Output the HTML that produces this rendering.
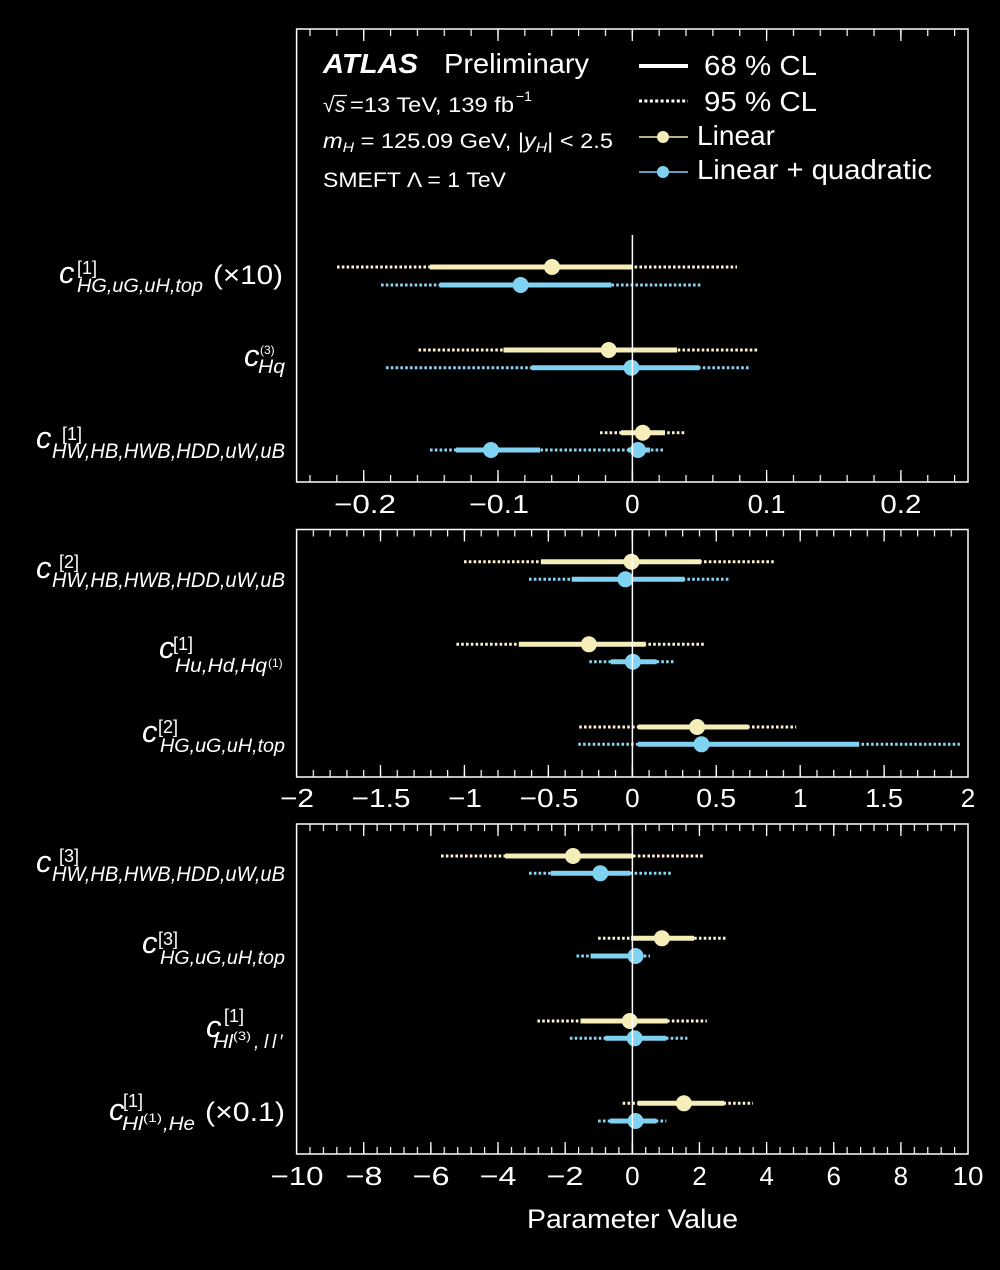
<!DOCTYPE html>
<html><head><meta charset="utf-8">
<style>
html,body{margin:0;padding:0;background:#000;}
svg{display:block;}
text{font-family:"Liberation Sans",Arial,sans-serif;fill:#fff;}
.it{font-style:italic;}
.dy{stroke:#faf3cc;stroke-width:3;stroke-dasharray:2.6 2.2;}
.db{stroke:#8ad6f5;stroke-width:3;stroke-dasharray:2.6 2.2;}
.sy{stroke:#f6eeb8;stroke-width:5;}
.sb{stroke:#7fd2f2;stroke-width:5;}
.cy{fill:#f6eeb8;}
.cb{fill:#7fd2f2;}
.fr{fill:none;stroke:#fff;stroke-width:1.5;}
.tk{stroke:#fff;stroke-width:1.3;}
.zl{stroke:#fff;stroke-width:1.5;}
.tl{font-size:26px;text-anchor:middle;}
</style></head>
<body>
<svg width="1000" height="1270" viewBox="0 0 1000 1270" xmlns="http://www.w3.org/2000/svg">
<defs>
<pattern id="pT" patternUnits="userSpaceOnUse" x="309.38" y="0" width="26.86" height="1270"><rect x="0" y="0" width="1.2" height="1270" fill="#fff"/></pattern>
<pattern id="pM" patternUnits="userSpaceOnUse" x="295.95" y="0" width="16.7875" height="1270"><rect x="0" y="0" width="1.2" height="1270" fill="#fff"/></pattern>
<pattern id="pB" patternUnits="userSpaceOnUse" x="295.95" y="0" width="13.43" height="1270"><rect x="0" y="0" width="1.2" height="1270" fill="#fff"/></pattern>
</defs>
<rect x="0" y="0" width="1000" height="1270" fill="#000"/>

<!-- ================= TOP PANEL ================= -->
<rect x="298" y="29" width="669" height="7" fill="url(#pT)"/>
<rect x="298" y="475" width="669" height="7" fill="url(#pT)"/>
<g class="tk">
<line x1="363.7" y1="29" x2="363.7" y2="41"/><line x1="498" y1="29" x2="498" y2="41"/><line x1="632.3" y1="29" x2="632.3" y2="41"/><line x1="766.6" y1="29" x2="766.6" y2="41"/><line x1="900.9" y1="29" x2="900.9" y2="41"/>
<line x1="363.7" y1="470" x2="363.7" y2="482"/><line x1="498" y1="470" x2="498" y2="482"/><line x1="632.3" y1="470" x2="632.3" y2="482"/><line x1="766.6" y1="470" x2="766.6" y2="482"/><line x1="900.9" y1="470" x2="900.9" y2="482"/>
</g>

<!-- header text -->
<text x="323" y="73" font-size="28" font-weight="bold" font-style="italic" textLength="95" lengthAdjust="spacingAndGlyphs">ATLAS</text>
<text x="444" y="73" font-size="28" textLength="145" lengthAdjust="spacingAndGlyphs">Preliminary</text>

<text x="323" y="112" font-size="21">√</text>
<text x="335" y="112" font-size="21" class="it">s</text>
<line x1="334" y1="95.5" x2="347" y2="95.5" stroke="#fff" stroke-width="1.3"/>
<text x="350" y="112" font-size="21" textLength="164" lengthAdjust="spacingAndGlyphs">=13 TeV, 139 fb</text>
<text x="516" y="101" font-size="14">−1</text>

<text x="323" y="148" font-size="21" textLength="290" lengthAdjust="spacingAndGlyphs"><tspan class="it">m</tspan><tspan class="it" font-size="14" dy="4">H</tspan><tspan dy="-4"> = 125.09 GeV, |</tspan><tspan class="it">y</tspan><tspan class="it" font-size="14" dy="4">H</tspan><tspan dy="-4">| &lt; 2.5</tspan></text>

<text x="323" y="187" font-size="21" textLength="183" lengthAdjust="spacingAndGlyphs">SMEFT Λ = 1 TeV</text>

<!-- legend -->
<line x1="639" y1="66" x2="688" y2="66" stroke="#fff" stroke-width="4"/>
<text x="704" y="75" font-size="28" textLength="113" lengthAdjust="spacingAndGlyphs">68 % CL</text>
<line x1="639" y1="101" x2="688" y2="101" stroke="#fff" stroke-width="3" stroke-dasharray="3 2.4"/>
<text x="704" y="111" font-size="28" textLength="113" lengthAdjust="spacingAndGlyphs">95 % CL</text>
<line x1="639" y1="137" x2="688" y2="137" stroke="#f6eeb8" stroke-width="1.5"/>
<circle cx="663" cy="137" r="6" class="cy"/>
<text x="697" y="145" font-size="28" textLength="78" lengthAdjust="spacingAndGlyphs">Linear</text>
<line x1="639" y1="172" x2="688" y2="172" stroke="#7fd2f2" stroke-width="1.5"/>
<circle cx="663" cy="172" r="6" class="cb"/>
<text x="697" y="179" font-size="28" textLength="235" lengthAdjust="spacingAndGlyphs">Linear + quadratic</text>

<!-- data top -->
<line class="dy" x1="337" y1="267" x2="737" y2="267"/>
<line class="sy" x1="430" y1="267" x2="632" y2="267"/>
<circle class="cy" cx="552" cy="267" r="8"/>
<line class="db" x1="381" y1="285" x2="701" y2="285"/>
<line class="sb" x1="439.6" y1="285" x2="611.3" y2="285"/>
<circle class="cb" cx="520.6" cy="285" r="8"/>

<line class="dy" x1="418.5" y1="350" x2="759" y2="350"/>
<line class="sy" x1="503.5" y1="350" x2="677" y2="350"/>
<circle class="cy" cx="608.7" cy="350" r="8"/>
<line class="db" x1="386" y1="367.7" x2="748.6" y2="367.7"/>
<line class="sb" x1="531.6" y1="367.7" x2="699.3" y2="367.7"/>
<circle class="cb" cx="631.5" cy="367.7" r="8"/>

<line class="dy" x1="600" y1="432.7" x2="685" y2="432.7"/>
<line class="sy" x1="621" y1="432.7" x2="665" y2="432.7"/>
<circle class="cy" cx="642.7" cy="432.7" r="8"/>
<line class="db" x1="430" y1="450" x2="663" y2="450"/>
<line class="sb" x1="456" y1="450" x2="540" y2="450"/>
<line class="sb" x1="628" y1="450" x2="650" y2="450"/>
<circle class="cb" cx="491" cy="450" r="8"/>
<circle class="cb" cx="638" cy="450" r="8"/>

<line class="zl" x1="632.4" y1="235" x2="632.4" y2="482"/>
<rect class="fr" x="296.6" y="29" width="671.4" height="453"/>

<!-- top tick labels -->
<text class="tl" x="365" y="513" textLength="62" lengthAdjust="spacingAndGlyphs">−0.2</text>
<text class="tl" x="499" y="513" textLength="60" lengthAdjust="spacingAndGlyphs">−0.1</text>
<text class="tl" x="632.3" y="513">0</text>
<text class="tl" x="766.6" y="513" textLength="38" lengthAdjust="spacingAndGlyphs">0.1</text>
<text class="tl" x="900.9" y="513" textLength="41" lengthAdjust="spacingAndGlyphs">0.2</text>

<!-- top labels -->
<text x="59" y="283" font-size="31" class="it">c</text>
<text x="77" y="274" font-size="18">[1]</text>
<text x="77" y="292" font-size="19" class="it" textLength="126" lengthAdjust="spacingAndGlyphs">HG,uG,uH,top</text>
<text x="213" y="284" font-size="27" textLength="70" lengthAdjust="spacingAndGlyphs">(×10)</text>

<text x="244" y="366" font-size="31" class="it">c</text>
<text x="260" y="354" font-size="12">(3)</text>
<text x="258" y="373" font-size="19" class="it" textLength="27" lengthAdjust="spacingAndGlyphs">Hq</text>

<text x="36" y="448" font-size="31" class="it">c</text>
<text x="62" y="440" font-size="18">[1]</text>
<text x="52" y="458" font-size="21" class="it" textLength="233" lengthAdjust="spacingAndGlyphs">HW,HB,HWB,HDD,uW,uB</text>

<!-- ================= MIDDLE PANEL ================= -->
<rect x="298" y="529.5" width="669" height="7" fill="url(#pM)"/>
<rect x="298" y="770" width="669" height="7" fill="url(#pM)"/>
<g class="tk">
<line x1="380.49" y1="529.5" x2="380.49" y2="541.5"/><line x1="464.43" y1="529.5" x2="464.43" y2="541.5"/><line x1="548.36" y1="529.5" x2="548.36" y2="541.5"/><line x1="632.3" y1="529.5" x2="632.3" y2="541.5"/><line x1="716.24" y1="529.5" x2="716.24" y2="541.5"/><line x1="800.18" y1="529.5" x2="800.18" y2="541.5"/><line x1="884.11" y1="529.5" x2="884.11" y2="541.5"/>
<line x1="380.49" y1="765" x2="380.49" y2="777"/><line x1="464.43" y1="765" x2="464.43" y2="777"/><line x1="548.36" y1="765" x2="548.36" y2="777"/><line x1="632.3" y1="765" x2="632.3" y2="777"/><line x1="716.24" y1="765" x2="716.24" y2="777"/><line x1="800.18" y1="765" x2="800.18" y2="777"/><line x1="884.11" y1="765" x2="884.11" y2="777"/>
</g>

<line class="dy" x1="464" y1="561.7" x2="775" y2="561.7"/>
<line class="sy" x1="541" y1="561.7" x2="701" y2="561.7"/>
<circle class="cy" cx="631.5" cy="561.7" r="8"/>
<line class="db" x1="529" y1="579.3" x2="730" y2="579.3"/>
<line class="sb" x1="571.7" y1="579.3" x2="684.4" y2="579.3"/>
<circle class="cb" cx="625.4" cy="579.3" r="8"/>

<line class="dy" x1="456.4" y1="644.3" x2="704.2" y2="644.3"/>
<line class="sy" x1="518.9" y1="644.3" x2="645.6" y2="644.3"/>
<circle class="cy" cx="588.9" cy="644.3" r="8"/>
<line class="db" x1="589.3" y1="661.7" x2="675.6" y2="661.7"/>
<line class="sb" x1="610.9" y1="661.7" x2="656.6" y2="661.7"/>
<circle class="cb" cx="632.9" cy="661.7" r="8"/>

<line class="dy" x1="579.2" y1="727" x2="796.2" y2="727"/>
<line class="sy" x1="638.2" y1="727" x2="748.6" y2="727"/>
<circle class="cy" cx="697.1" cy="727" r="8"/>
<line class="db" x1="578.3" y1="744.3" x2="959.9" y2="744.3"/>
<line class="sb" x1="638.2" y1="744.3" x2="859.1" y2="744.3"/>
<circle class="cb" cx="701.5" cy="744.3" r="8"/>

<line class="zl" x1="632.4" y1="529.5" x2="632.4" y2="777"/>
<rect class="fr" x="296.6" y="529.5" width="671.4" height="247.5"/>

<text class="tl" x="297" y="807" textLength="34" lengthAdjust="spacingAndGlyphs">−2</text>
<text class="tl" x="381" y="807" textLength="59" lengthAdjust="spacingAndGlyphs">−1.5</text>
<text class="tl" x="465" y="807" textLength="34" lengthAdjust="spacingAndGlyphs">−1</text>
<text class="tl" x="549" y="807" textLength="59" lengthAdjust="spacingAndGlyphs">−0.5</text>
<text class="tl" x="632.3" y="807">0</text>
<text class="tl" x="716.2" y="807" textLength="40" lengthAdjust="spacingAndGlyphs">0.5</text>
<text class="tl" x="800.2" y="807">1</text>
<text class="tl" x="884.1" y="807" textLength="38" lengthAdjust="spacingAndGlyphs">1.5</text>
<text class="tl" x="968" y="807">2</text>

<text x="36" y="578" font-size="31" class="it">c</text>
<text x="59" y="568" font-size="18">[2]</text>
<text x="52" y="587" font-size="21" class="it" textLength="233" lengthAdjust="spacingAndGlyphs">HW,HB,HWB,HDD,uW,uB</text>

<text x="159" y="658" font-size="31" class="it">c</text>
<text x="173" y="650" font-size="18">[1]</text>
<text x="175" y="672" font-size="19" class="it" textLength="92" lengthAdjust="spacingAndGlyphs">Hu,Hd,Hq</text>
<text x="268" y="667" font-size="12">(1)</text>

<text x="142" y="742" font-size="31" class="it">c</text>
<text x="158" y="733" font-size="18">[2]</text>
<text x="160" y="752" font-size="19" class="it" textLength="125" lengthAdjust="spacingAndGlyphs">HG,uG,uH,top</text>

<!-- ================= BOTTOM PANEL ================= -->
<rect x="298" y="824" width="669" height="7" fill="url(#pB)"/>
<rect x="298" y="1147" width="669" height="7" fill="url(#pB)"/>
<g class="tk">
<line x1="363.7" y1="824" x2="363.7" y2="836"/><line x1="430.85" y1="824" x2="430.85" y2="836"/><line x1="498" y1="824" x2="498" y2="836"/><line x1="565.15" y1="824" x2="565.15" y2="836"/><line x1="632.3" y1="824" x2="632.3" y2="836"/><line x1="699.45" y1="824" x2="699.45" y2="836"/><line x1="766.6" y1="824" x2="766.6" y2="836"/><line x1="833.75" y1="824" x2="833.75" y2="836"/><line x1="900.9" y1="824" x2="900.9" y2="836"/>
<line x1="363.7" y1="1142" x2="363.7" y2="1154"/><line x1="430.85" y1="1142" x2="430.85" y2="1154"/><line x1="498" y1="1142" x2="498" y2="1154"/><line x1="565.15" y1="1142" x2="565.15" y2="1154"/><line x1="632.3" y1="1142" x2="632.3" y2="1154"/><line x1="699.45" y1="1142" x2="699.45" y2="1154"/><line x1="766.6" y1="1142" x2="766.6" y2="1154"/><line x1="833.75" y1="1142" x2="833.75" y2="1154"/><line x1="900.9" y1="1142" x2="900.9" y2="1154"/>
</g>

<line class="dy" x1="441" y1="856" x2="703.7" y2="856"/>
<line class="sy" x1="505.2" y1="856" x2="632.4" y2="856"/>
<circle class="cy" cx="573" cy="856" r="8"/>
<line class="db" x1="529" y1="873.3" x2="671.2" y2="873.3"/>
<line class="sb" x1="551" y1="873.3" x2="630.2" y2="873.3"/>
<circle class="cb" cx="600.3" cy="873.3" r="8"/>

<line class="dy" x1="598.1" y1="938.3" x2="725.7" y2="938.3"/>
<line class="sy" x1="631.1" y1="938.3" x2="694" y2="938.3"/>
<circle class="cy" cx="661.9" cy="938.3" r="8"/>
<line class="db" x1="576.5" y1="956" x2="650" y2="956"/>
<line class="sb" x1="590.6" y1="956" x2="642.1" y2="956"/>
<circle class="cb" cx="635.5" cy="956" r="8"/>

<line class="dy" x1="537.4" y1="1021" x2="706.8" y2="1021"/>
<line class="sy" x1="580.5" y1="1021" x2="667.6" y2="1021"/>
<circle class="cy" cx="629.8" cy="1021" r="8"/>
<line class="db" x1="569.9" y1="1038.3" x2="687.4" y2="1038.3"/>
<line class="sb" x1="605.1" y1="1038.3" x2="666.3" y2="1038.3"/>
<circle class="cb" cx="634.6" cy="1038.3" r="8"/>

<line class="dy" x1="622.7" y1="1103.3" x2="753" y2="1103.3"/>
<line class="sy" x1="637.7" y1="1103.3" x2="724.4" y2="1103.3"/>
<circle class="cy" cx="683.9" cy="1103.3" r="8"/>
<line class="db" x1="598.1" y1="1121" x2="666.3" y2="1121"/>
<line class="sb" x1="610" y1="1121" x2="656.6" y2="1121"/>
<circle class="cb" cx="635.5" cy="1121" r="8"/>

<line class="zl" x1="632.4" y1="824" x2="632.4" y2="1154"/>
<rect class="fr" x="296.6" y="824" width="671.4" height="330"/>

<text class="tl" x="297" y="1185" textLength="53" lengthAdjust="spacingAndGlyphs">−10</text>
<text class="tl" x="364" y="1185" textLength="37" lengthAdjust="spacingAndGlyphs">−8</text>
<text class="tl" x="431" y="1185" textLength="37" lengthAdjust="spacingAndGlyphs">−6</text>
<text class="tl" x="498" y="1185" textLength="37" lengthAdjust="spacingAndGlyphs">−4</text>
<text class="tl" x="565" y="1185" textLength="37" lengthAdjust="spacingAndGlyphs">−2</text>
<text class="tl" x="632.3" y="1185">0</text>
<text class="tl" x="699.45" y="1185">2</text>
<text class="tl" x="766.6" y="1185">4</text>
<text class="tl" x="833.75" y="1185">6</text>
<text class="tl" x="900.9" y="1185">8</text>
<text class="tl" x="968" y="1185" textLength="31" lengthAdjust="spacingAndGlyphs">10</text>

<text x="527" y="1228" font-size="27" textLength="211" lengthAdjust="spacingAndGlyphs">Parameter Value</text>

<text x="36" y="872" font-size="31" class="it">c</text>
<text x="59" y="862" font-size="18">[3]</text>
<text x="52" y="881" font-size="21" class="it" textLength="233" lengthAdjust="spacingAndGlyphs">HW,HB,HWB,HDD,uW,uB</text>

<text x="142" y="953" font-size="31" class="it">c</text>
<text x="158" y="945" font-size="18">[3]</text>
<text x="160" y="964" font-size="19" class="it" textLength="125" lengthAdjust="spacingAndGlyphs">HG,uG,uH,top</text>

<text x="206" y="1037" font-size="31" class="it">c</text>
<text x="224" y="1022" font-size="18">[1]</text>
<text x="213" y="1048" font-size="19" class="it" textLength="20" lengthAdjust="spacingAndGlyphs">Hl</text>
<text x="233" y="1040" font-size="12" textLength="18" lengthAdjust="spacingAndGlyphs">(3)</text>
<text x="254 264 272 279" y="1048" font-size="19" class="it">,ll′</text>

<text x="109" y="1120" font-size="31" class="it">c</text>
<text x="123" y="1107" font-size="18">[1]</text>
<text x="122" y="1130" font-size="19" class="it" textLength="21" lengthAdjust="spacingAndGlyphs">Hl</text>
<text x="143" y="1122" font-size="12" textLength="19" lengthAdjust="spacingAndGlyphs">(1)</text>
<text x="163" y="1130" font-size="19" class="it" textLength="32" lengthAdjust="spacingAndGlyphs">,He</text>
<text x="205" y="1121" font-size="27" textLength="80" lengthAdjust="spacingAndGlyphs">(×0.1)</text>
</svg>
</body></html>
